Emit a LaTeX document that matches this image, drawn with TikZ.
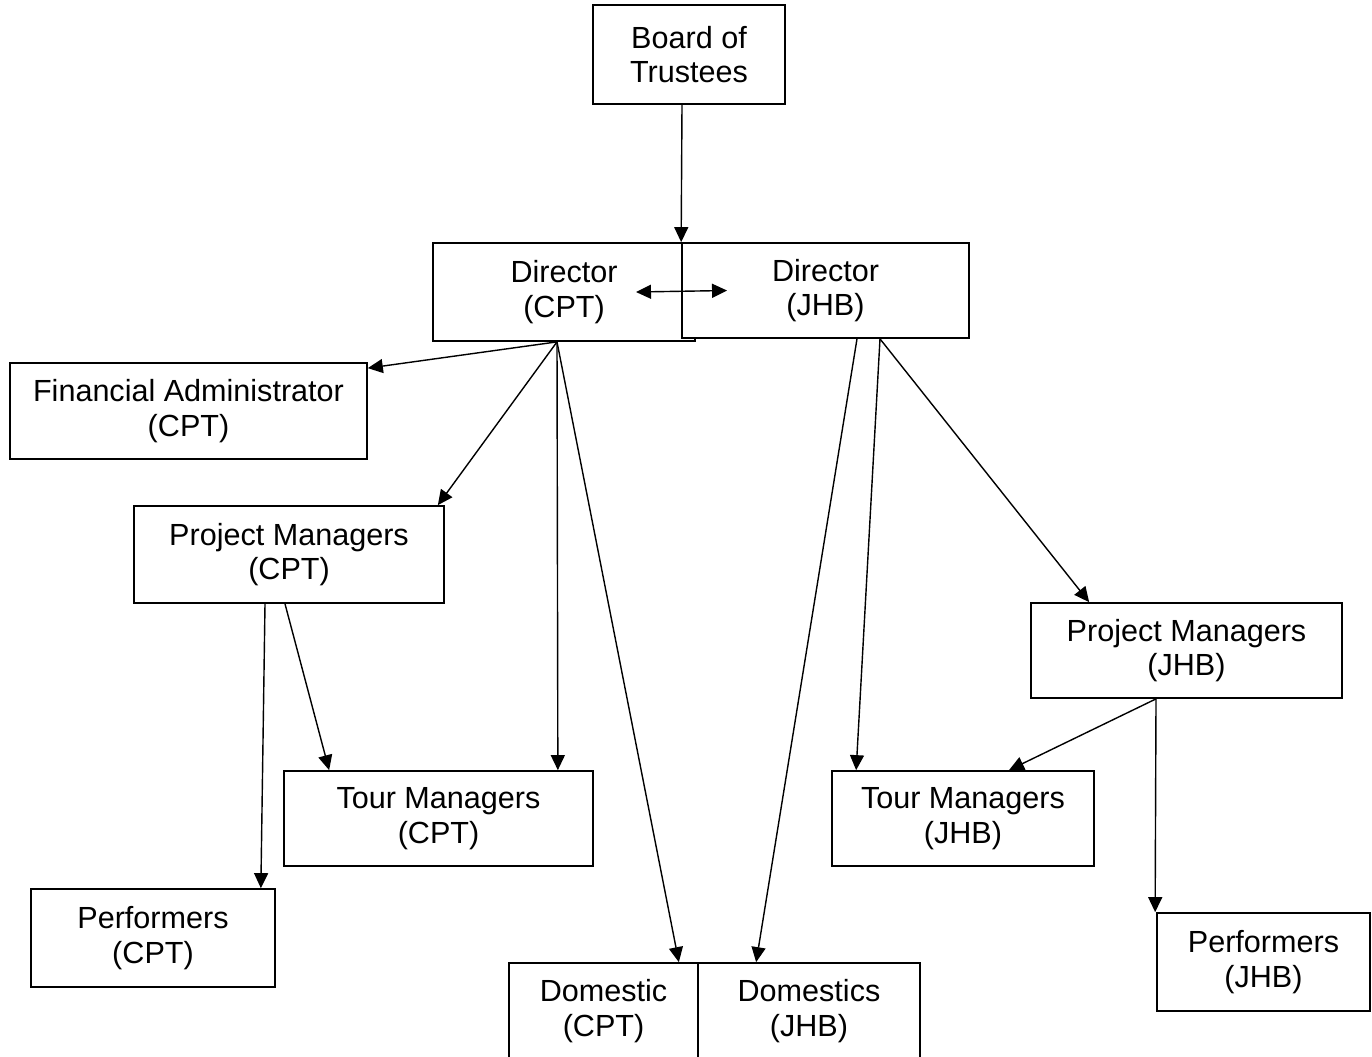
\documentclass[tikz,border=0pt]{standalone}
\usepackage{fontspec}
\setmainfont{Liberation Sans}
\usepackage{tikz}
\usetikzlibrary{positioning,arrows.meta}

\begin{document}
\begin{tikzpicture}[
    x=0.02cm, y=-0.02cm,
    office/.style={rectangle, draw=black, line width=1pt, fill=white, align=center, inner sep=0pt,
        font=\fontsize{17.4pt}{19.6pt}\selectfont},
    arrow/.style={-{Triangle[length=0.3cm, width=0.28cm]}, line width=0.8pt},
    both/.style={{Triangle[length=0.3cm, width=0.28cm]}-{Triangle[length=0.3cm, width=0.28cm]}, line width=0.8pt}
]
\useasboundingbox (0,0) rectangle (1372,1056);

% Board
\node[office, minimum width=3.84cm, minimum height=1.98cm] (board) at (689,54.5) {Board of\\Trustees};

% Directors
\node[office, minimum width=5.24cm, minimum height=1.96cm] (dircpt) at (564,292) {Director\\(CPT)};
\node[office, minimum width=5.74cm, minimum height=1.9cm] (dirjhb) at (825.5,290.5) {Director\\(JHB)};
\draw[arrow] ([xshift=-0.14cm]board.south) -- (dirjhb.north west);
\draw[both] ([xshift=1.44cm]dircpt.center) -- ([xshift=-1.97cm]dirjhb.center);

% CPT side
\node[office, minimum width=7.14cm, minimum height=1.92cm] (fin) at (188.5,411) {Financial Administrator\\(CPT)};
\node[office, minimum width=6.2cm, minimum height=1.94cm] (pmcpt) at (289,554.5) {Project Managers\\(CPT)};
\node[office, minimum width=6.18cm, minimum height=1.9cm] (tourcpt) at (438.5,818.5) {Tour Managers\\(CPT)};
\node[office, minimum width=4.88cm, minimum height=1.96cm] (perfcpt) at (153,938) {Performers\\(CPT)};

% Domestics
\node[office, minimum width=3.78cm, minimum height=1.92cm] (domcpt) at (603.5,1011) {Domestic\\(CPT)};
\node[office, minimum width=4.44cm, minimum height=1.92cm] (domjhb) at (809,1011) {Domestics\\(JHB)};

% JHB side
\node[office, minimum width=6.22cm, minimum height=1.9cm] (pmjhb) at (1186.5,650.5) {Project Managers\\(JHB)};
\node[office, minimum width=5.24cm, minimum height=1.9cm] (tourjhb) at (963,818.5) {Tour Managers\\(JHB)};
\node[office, minimum width=4.26cm, minimum height=1.96cm] (perfjhb) at (1263.5,962) {Performers\\(JHB)};

% from Director (CPT)
\draw[arrow] ([xshift=-0.14cm]dircpt.south) -- ([yshift=-0.12cm]fin.north east);
\draw[arrow] ([xshift=-0.14cm]dircpt.south) -- ([xshift=-0.14cm]pmcpt.north east);
\draw[arrow] ([xshift=-0.14cm]dircpt.south) -- ([xshift=-0.72cm]tourcpt.north east);
\draw[arrow] ([xshift=-0.14cm]dircpt.south) -- ([xshift=-0.4cm]domcpt.north east);

% from Project Managers (CPT)
\draw[arrow] ([xshift=-0.48cm]pmcpt.south) -- ([xshift=-0.3cm]perfcpt.north east);
\draw[arrow] ([xshift=-0.08cm]pmcpt.south) -- ([xshift=0.92cm]tourcpt.north west);

% from Director (JHB)
\draw[arrow] ([xshift=0.63cm]dirjhb.south) -- ([xshift=1.18cm]domjhb.north west);
\draw[arrow] ([xshift=1.09cm]dirjhb.south) -- ([xshift=0.5cm]tourjhb.north west);
\draw[arrow] ([xshift=1.09cm]dirjhb.south) -- ([xshift=1.18cm]pmjhb.north west);

% from Project Managers (JHB)
\draw[arrow] ([xshift=-0.61cm]pmjhb.south) -- ([xshift=0.92cm]tourjhb.north);
\draw[arrow] ([xshift=-0.61cm]pmjhb.south) -- ([xshift=-0.02cm]perfjhb.north west);

\end{tikzpicture}
\end{document}
